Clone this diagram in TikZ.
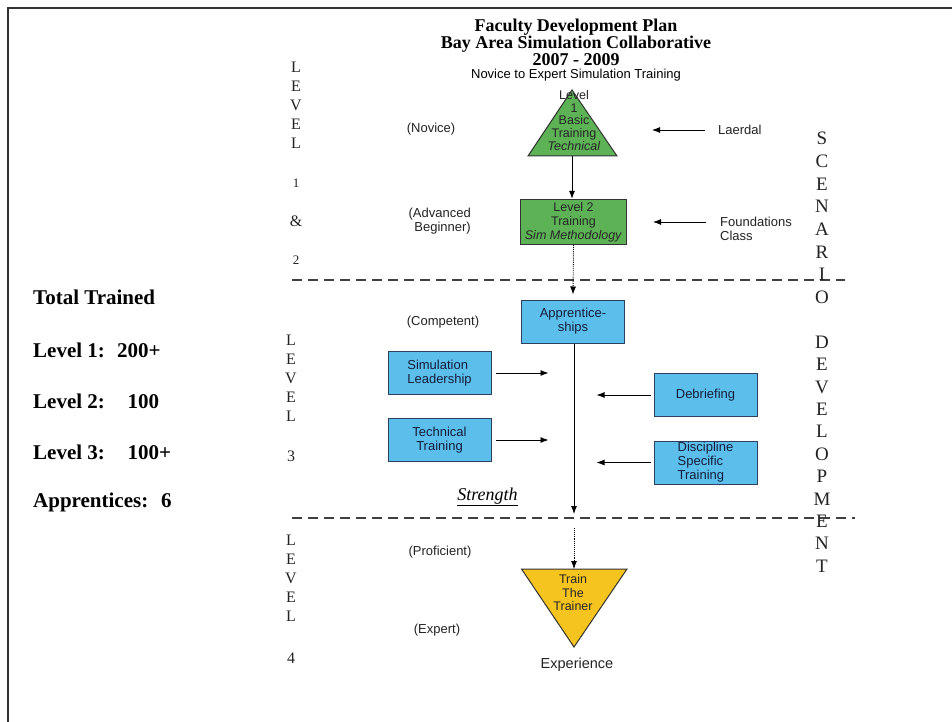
\documentclass[tikz,border=0pt]{standalone}
\usepackage{fontspec}
\setmainfont{Liberation Serif}
\setsansfont{Liberation Sans}
\usepackage{tikz}
\usetikzlibrary{arrows.meta, positioning}

\definecolor{basegreen}{RGB}{92,178,84}
\definecolor{skyfill}{RGB}{92,190,235}
\definecolor{trainyellow}{RGB}{246,196,30}
\definecolor{inkdark}{RGB}{35,35,35}
\definecolor{navytext}{RGB}{20,30,60}
\definecolor{slateline}{RGB}{45,65,95}

\begin{document}
\begin{tikzpicture}[x=1pt, y=-1pt,
            stage label/.style={font=\sffamily\fontsize{13}{14}\selectfont, text=inkdark, align=center, inner sep=0pt},
            level box/.style={draw=black!80, line width=1.3pt, fill=basegreen, minimum width=106pt, minimum height=45pt, inner sep=1pt, font=\sffamily\fontsize{12.5}{14}\selectfont, text=black!85, align=center},
            skill box/.style={draw=slateline, line width=1pt, fill=skyfill, minimum width=103pt, minimum height=43pt, inner sep=1pt, font=\sffamily\fontsize{13}{14}\selectfont, text=navytext, align=center},
            letter stack/.style={font=\fontsize{16}{19}\selectfont, align=center, inner sep=0pt, text=inkdark},
            scenario stack/.style={font=\fontsize{19}{22.7}\selectfont, align=center, inner sep=0pt, text=inkdark},
            total line/.style={anchor=west, font=\bfseries\fontsize{21}{22}\selectfont, inner sep=0pt},
            link/.style={-{Latex[length=8pt,width=6pt]}, line width=0.9pt},
            tier line/.style={dash pattern=on 10pt off 6pt, line width=1.1pt, black!75}]

            \useasboundingbox (0,0) rectangle (952,722);
            \fill[white] (0,0) rectangle (952,722);

            % Page frame
            \draw[line width=2pt, black!80] (8,722) -- (8,8) -- (952,8);

            % Title
            \node[font=\bfseries\fontsize{18}{15.5}\selectfont, align=center, inner sep=0pt] (title) at (576,42) {Faculty Development Plan\\Bay Area Simulation Collaborative\\2007 - 2009};
            \node[font=\sffamily\fontsize{13}{14}\selectfont, inner sep=0pt, below=3pt of title] (subtitle) {Novice to Expert Simulation Training};

            % Level 1 and 2
            \draw[fill=basegreen, draw=black!80, line width=1pt] (572,90) -- (617,156) -- (528,156) -- cycle;
            \coordinate (tribase) at (572,156);
            \node[font=\sffamily\fontsize{12.5}{12.75}\selectfont, align=center, inner sep=0pt, text=black!85] (basic) at (574,120.5) {Level\\1\\Basic\\Training\\\textit{Technical}};

            \node[level box] (lvltwo) at (573.5,222) {Level 2\\Training\\\textit{Sim Methodology}};
            \draw[link] (tribase) -- (tribase |- lvltwo.north);

            \node[stage label] (novice) at (431,129) {(Novice)};
            \node[stage label, anchor=east, align=right] (advbeg) at (471,221) {(Advanced\\Beginner)};

            \node[stage label, anchor=west] (laerdal) at (718,130) {Laerdal};
            \draw[link] ([xshift=-13pt]laerdal.west) -- ++(-53,0);

            \node[stage label, anchor=west, align=left] (found) at (720,229) {Foundations\\Class};
            \draw[link] ([xshift=-14pt, yshift=7pt]found.west) -- ++(-53,0);

            % Level 3
            \draw[tier line] (292,280) -- (845,280);

            \node[skill box] (apprent) at (573,321.5) {Apprentice-\\ships};
            \draw[link, densely dotted] (lvltwo.south) -- ([yshift=5pt]apprent.north);
            \node[stage label] (competent) at (443,322) {(Competent)};

            \node[skill box, align=left] (simlead) at (439.5,373) {Simulation\\Leadership};
            \node[skill box] (techtrain) at (439.5,440) {Technical\\Training};
            \node[skill box] (debrief) at (705.5,395) {Debriefing};
            \node[skill box, align=left] (discip) at (705.5,462.5) {Discipline\\Specific\\Training};

            \coordinate (strengthend) at (574,514);
            \draw[link] (apprent.south -| strengthend) -- (strengthend);

            \draw[link] ([xshift=4pt]simlead.east) -- ++(53,0);
            \draw[link] ([xshift=4pt]techtrain.east) -- ++(53,0);
            \draw[link] ([xshift=-3pt]debrief.west) -- ++(-54,0);
            \draw[link] ([xshift=-3pt]discip.west) -- ++(-54,0);

            \node[font=\itshape\fontsize{18}{20}\selectfont, inner sep=0pt] (strength) at (487.5,497) {\underline{Strength}};

            % Level 4
            \draw[tier line] (292,518) -- (855,518);

            \coordinate (trainin) at (574,528);
            \draw[fill=trainyellow, draw=black!80, line width=1pt] (521.5,569) -- (627,569) -- (574,647) -- cycle;
            \coordinate (traintop) at (574,569);
            \draw[link, densely dotted] (trainin) -- (traintop);
            \node[font=\sffamily\fontsize{12.5}{13.5}\selectfont, align=center, inner sep=0pt, text=black!85] (trainer) at (573,593) {Train\\The\\Trainer};

            \node[stage label] (proficient) at (440,552) {(Proficient)};
            \node[stage label] (expert) at (437,630) {(Expert)};
            \node[stage label, font=\sffamily\fontsize{14.5}{15}\selectfont] (experience) at (577,665) {Experience};

            % Level letters on the left
            \node[letter stack] (lvlonestack) at (296,105) {L\\E\\V\\E\\L};
            \node[letter stack, font=\fontsize{13}{14}\selectfont] (one) at (296,183) {1};
            \node[letter stack] (amp) at (296,221) {\&};
            \node[letter stack, font=\fontsize{13}{14}\selectfont] (two) at (296,260) {2};

            \node[letter stack] (lvlthreestack) at (291,378) {L\\E\\V\\E\\L};
            \node[letter stack] (three) at (291,456) {3};

            \node[letter stack] (lvlfourstack) at (291,578.5) {L\\E\\V\\E\\L};
            \node[letter stack] (four) at (291,658) {4};

            % Scenario development on the right
            \node[scenario stack] (scenario) at (822,218) {S\\C\\E\\N\\A\\R\\I\\O};
            \node[scenario stack, font=\fontsize{19}{22.4}\selectfont] (development) at (822,454) {D\\E\\V\\E\\L\\O\\P\\M\\E\\N\\T};

            % Totals
            \node[total line] (total) at (33,297) {Total Trained};
            \node[total line] (lvlonecount) at (33,350) {\makebox[84pt][l]{Level 1:}200+};
            \node[total line] (lvltwocount) at (33,401) {\makebox[94.5pt][l]{Level 2:}100};
            \node[total line] (lvlthreecount) at (33,452) {\makebox[94.5pt][l]{Level 3:}100+};
            \node[total line] (apprentcount) at (33,502) {\makebox[128pt][l]{Apprentices:}6};
        \end{tikzpicture}
\end{document}
